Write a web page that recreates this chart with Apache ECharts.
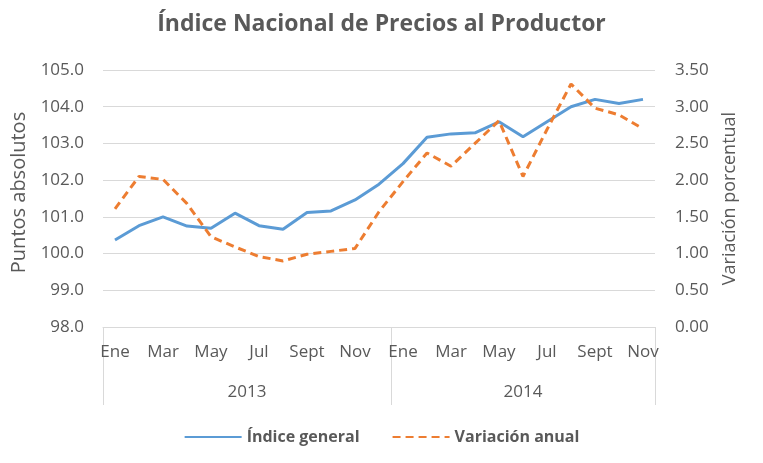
<!DOCTYPE html>
<html>
<head>
<meta charset="utf-8">
<script src="https://cdn.jsdelivr.net/npm/echarts@6/dist/echarts.min.js"></script>
<style>
html,body{margin:0;padding:0;background:#fff;}
#main{width:763px;height:463px;}
</style>
</head>
<body>
<div id="main"></div>
<script>
// meses (se muestran uno si, uno no)
var months = ['Ene','Feb','Mar','Abr','May','Jun','Jul','Ago','Sept','Oct','Nov','Dic',
              'Ene','Feb','Mar','Abr','May','Jun','Jul','Ago','Sept','Oct','Nov'];
var years = ['2013','2014'];
var yearBounds = [0, 12, 23];
var yearCenters = [6, 17.5];

// Indice general (puntos)
var indice = [100.37,100.76,101.0,100.75,100.69,101.10,100.76,100.66,101.12,101.16,101.46,101.89,
              102.45,103.17,103.26,103.29,103.59,103.18,103.59,104.0,104.2,104.09,104.2];
// Variacion anual (%)
var variacion = [1.61,2.05,2.01,1.68,1.23,1.09,0.96,0.90,0.99,1.03,1.07,1.57,
                 1.98,2.37,2.19,2.50,2.81,2.05,2.69,3.31,2.98,2.89,2.70];

var grey = '#595959';
var font = 'Open Sans';

var chart = echarts.init(document.getElementById('main'));
var option = {
	backgroundColor: '#fff',
	textStyle: {fontFamily: font},
	title: {
		text: 'Índice Nacional de Precios al Productor',
		left: 'center',
		top: 8,
		textStyle: {fontFamily: font, fontSize: 23, fontWeight: 'bold', color: grey}
	},
	legend: {
		bottom: 13,
		left: 'center',
		itemWidth: 57,
		itemHeight: 10,
		itemGap: 32,
		itemStyle: {opacity: 0},
		textStyle: {fontFamily: font, fontSize: 16, fontWeight: 'bold', color: grey},
		data: ['Índice general', 'Variación anual']
	},
	grid: {left: 103, right: 108, top: 70, bottom: 136},
	xAxis: [
		{
			type: 'category',
			data: months,
			axisLine: {lineStyle: {color: '#d9d9d9'}},
			axisTick: {show: false},
			axisLabel: {
				interval: 1,
				margin: 17,
				color: grey,
				fontSize: 17,
				fontFamily: font
			}
		},
		{
			type: 'value',
			position: 'bottom',
			min: 0,
			max: 23,
			axisLine: {show: false},
			splitLine: {show: false},
			axisTick: {
				show: true,
				customValues: yearBounds,
				length: 78,
				lineStyle: {color: '#d9d9d9'}
			},
			axisLabel: {
				customValues: yearCenters,
				margin: 57,
				color: grey,
				fontSize: 17,
				fontFamily: font,
				formatter: function(v){ return v < 12 ? years[0] : years[1]; }
			}
		}
	],
	yAxis: [
		{
			type: 'value',
			min: 98,
			max: 105,
			interval: 1,
			name: 'Puntos absolutos',
			nameLocation: 'middle',
			nameGap: 69,
			nameTextStyle: {color: grey, fontSize: 20, fontFamily: font, padding: [0, 0, 0, 12]},
			axisLine: {show: false},
			axisTick: {show: false},
			splitLine: {lineStyle: {color: '#d9d9d9'}},
			axisLabel: {
				color: grey, fontSize: 17, fontFamily: font, margin: 19,
				formatter: function(v){ return v.toFixed(1); }
			}
		},
		{
			type: 'value',
			min: 0,
			max: 3.5,
			interval: 0.5,
			name: 'Variación porcentual',
			nameLocation: 'middle',
			nameGap: 66,
			nameTextStyle: {color: grey, fontSize: 18, fontFamily: font},
			axisLine: {show: false},
			axisTick: {show: false},
			splitLine: {show: false},
			axisLabel: {
				color: grey, fontSize: 17, fontFamily: font, margin: 20,
				formatter: function(v){ return v.toFixed(2); }
			}
		}
	],
	series: [
		{
			name: 'Índice general',
			type: 'line',
			yAxisIndex: 0,
			data: indice,
			symbol: 'none',
			itemStyle: {color: '#5B9BD5'},
			lineStyle: {color: '#5B9BD5', width: 3}
		},
		{
			name: 'Variación anual',
			type: 'line',
			yAxisIndex: 1,
			data: variacion,
			symbol: 'none',
			itemStyle: {color: '#ED7D31'},
			lineStyle: {color: '#ED7D31', width: 3, type: [8, 5]}
		}
	]
};
chart.setOption(option);
</script>
</body>
</html>
